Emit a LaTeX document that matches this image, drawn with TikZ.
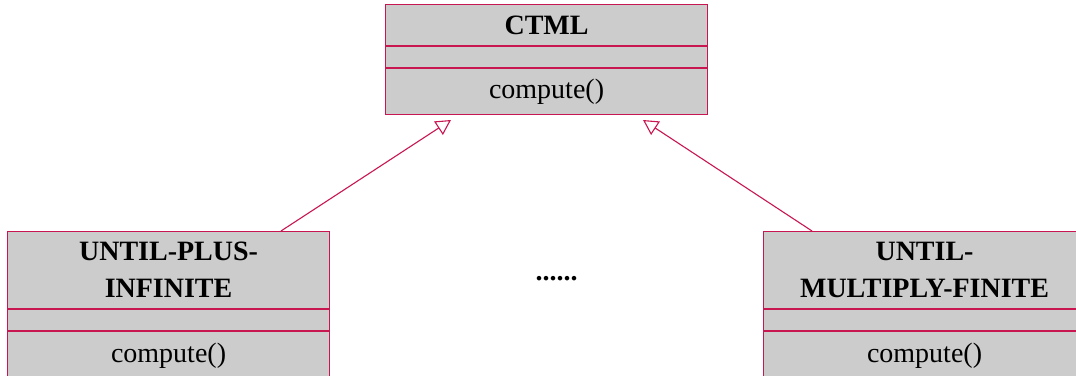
\documentclass[tikz,border=0pt]{standalone}
\usepackage{fontspec}
\setmainfont{Liberation Serif}
\usetikzlibrary{arrows.meta,calc}
\definecolor{umlline}{RGB}{200,22,80}
\definecolor{umlfill}{RGB}{204,204,204}
\tikzset{
  part/.style={draw=umlline, fill=umlfill, line width=0.55pt, inner sep=0pt,
    minimum width=161pt, anchor=north west, align=center,
    font=\fontsize{14}{18.5}\selectfont},
  title/.style={part, font=\fontsize{14}{18.5}\selectfont\bfseries},
  inherit/.style={draw=umlline, line width=0.55pt,
    -{Triangle[open, length=7.5pt, width=8pt, fill=white]}}
}
\begin{document}
\begin{tikzpicture}[x=1pt,y=1pt]
\useasboundingbox (0,0) rectangle (538,187.5);
% superclass
\node[title, minimum height=20.5pt] (ctml) at (192.5,185.5) {CTML};
\node[part, minimum height=10.5pt] (ctmlattr) at (ctml.south west) {};
\node[part, minimum height=23pt] (ctmlops) at (ctmlattr.south west) {compute()};
% left subclass
\node[title, minimum height=38.5pt] (upi) at (3.5,72) {UNTIL-PLUS-\\INFINITE};
\node[part, minimum height=10.5pt] (upiattr) at (upi.south west) {};
\node[part, minimum height=24pt] (upiops) at (upiattr.south west) {\raisebox{1.5pt}{compute()}};
% right subclass
\node[title, minimum height=38.5pt] (umf) at (381.5,72) {UNTIL-\\MULTIPLY-FINITE};
\node[part, minimum height=10.5pt] (umfattr) at (umf.south west) {};
\node[part, minimum height=24pt] (umfops) at (umfattr.south west) {\raisebox{1.5pt}{compute()}};
% ellipsis between subclasses
\node[font=\fontsize{14}{18.5}\selectfont\bfseries] (more) at (278.25,48) {......};
% generalisation arrows
\coordinate (tipL) at (225.5,127.5);
\coordinate (tipR) at (321.5,127.5);
\draw[inherit] ($(upi.north west)+(137,0)$) -- (tipL);
\draw[inherit] ($(umf.north west)+(24.5,0)$) -- (tipR);
\end{tikzpicture}
\end{document}
